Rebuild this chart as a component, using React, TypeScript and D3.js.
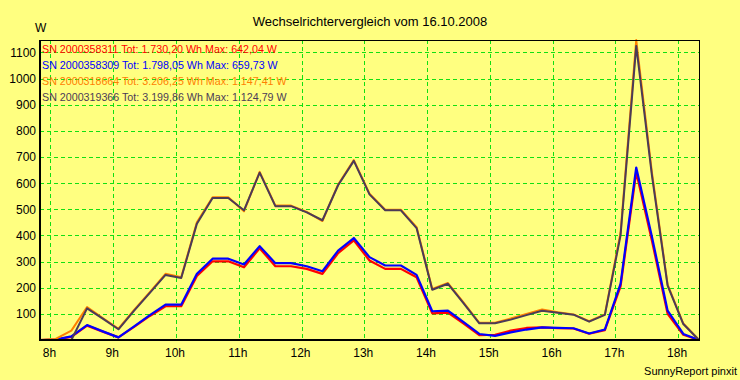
import React from "react";
import * as d3 from "d3";

// times in decimal hours, 15-minute samples from 7:50 to 18:20
const times: number[] = d3.range(0, 43).map((i) => 7 + 50 / 60 + i * 0.25);

const series358311: number[] = [0, 2, 12, 55, 32, 10, 50, 92, 129, 129, 245, 301, 301, 278, 351, 282, 282, 272, 253, 332, 381, 304, 272, 272, 240, 102, 105, 63, 19, 20, 36, 46, 48, 45, 44, 24, 38, 205, 642.04, 380, 100, 20, 0];
const series358309: number[] = [0, 2, 14, 57, 33, 10, 52, 95, 135, 135, 253, 311, 311, 289, 359, 294, 294, 282, 263, 342, 390, 317, 285, 285, 249, 110, 112, 68, 23, 16, 29, 40, 48, 46, 45, 25, 40, 215, 659.73, 395, 112, 23, 0];
const series318664: number[] = [0, 4, 36, 126, 84, 43, 115, 183, 253, 240, 450, 546, 546, 492, 643, 514, 514, 490, 455, 595, 688, 560, 498, 498, 432, 195, 218, 143, 66, 66, 82, 100, 117, 106, 98, 72, 98, 410, 1147.41, 640, 212, 63, 0];
const series319366: number[] = [0, 0, 0, 121, 82, 41, 112, 180, 249, 237, 445, 543, 543, 496, 640, 512, 512, 488, 458, 592, 685, 557, 496, 496, 428, 192, 215, 140, 64, 64, 78, 95, 112, 104, 97, 70, 96, 400, 1124.79, 630, 208, 61, 0];

const seriesNames: string[] = ["SN 2000358311", "SN 2000358309", "SN 2000318664", "SN 2000319366"];
const seriesTotals: string[] = ["1.730,20", "1.798,05", "3.206,25", "3.199,86"];
const seriesMax: string[] = ["642,04", "659,73", "1.147,41", "1.124,79"];
const seriesColors: string[] = ["#ff0000", "#0000ff", "#ff8000", "#4b3b57"];
const seriesValues: number[][] = [series358311, series358309, series318664, series319366];

const yTicks: number[] = [100, 200, 300, 400, 500, 600, 700, 800, 900, 1000, 1100];
const xTicks: number[] = [8, 9, 10, 11, 12, 13, 14, 15, 16, 17, 18];

const title = "Wechselrichtervergleich vom 16.10.2008";
const FONT = "'Liberation Sans', Arial, sans-serif";

export default function App() {
  const W = 740, H = 380;
  const left = 40, right = 699, top = 40, bottom = 340;
  const x = d3.scaleLinear().domain([7 + 50 / 60, 18 + 20 / 60]).range([left, right]);
  const y = d3.scaleLinear().domain([0, 1147.41]).range([bottom, top]);
  const line = d3
    .line<number>()
    .x((_, i) => x(times[i]))
    .y((d) => y(d));

  return (
    <svg width={W} height={H} style={{ position: "absolute", left: 0, top: 0 }} fontFamily={FONT}>
      <rect x={0} y={0} width={W} height={H} fill="#ffff80" />
      <text x={370} y={26} fontSize={13} textAnchor="middle" fill="#000">{title}</text>
      <text x={35} y={31.5} fontSize={12} fill="#000">W</text>

      {/* grid */}
      {yTicks.map((t) => (
        <line key={"gy" + t} x1={left} x2={right} y1={Math.round(y(t)) + 0.5} y2={Math.round(y(t)) + 0.5}
          stroke="#11e011" strokeWidth={1} strokeDasharray="4,3" />
      ))}
      {xTicks.map((t) => (
        <line key={"gx" + t} x1={Math.round(x(t)) + 0.5} x2={Math.round(x(t)) + 0.5} y1={top} y2={bottom}
          stroke="#11e011" strokeWidth={1} strokeDasharray="4,3" />
      ))}

      {/* series */}
      {seriesValues.map((vals, k) => (
        <path key={"s" + k} d={line(vals) || ""} fill="none" stroke={seriesColors[k]}
          strokeWidth={k < 2 ? 2.2 : 2} strokeLinejoin="round" />
      ))}

      {/* frame */}
      <rect x={left + 0.5} y={top + 0.5} width={right - left} height={bottom - top} fill="none" stroke="#000" strokeWidth={1} />
      <line x1={left} x2={left} y1={top} y2={bottom + 1} stroke="#000" strokeWidth={2} />
      <line x1={left} x2={right + 1} y1={bottom} y2={bottom} stroke="#000" strokeWidth={2} />

      {/* y labels */}
      {yTicks.map((t) => (
        <text key={"ly" + t} x={36} y={y(t) + 4.5} fontSize={12} textAnchor="end" fill="#000">{t}</text>
      ))}
      {/* x labels */}
      {xTicks.map((t) => (
        <text key={"lx" + t} x={x(t) - 1} y={357} fontSize={12} textAnchor="middle" fill="#000">{t + "h"}</text>
      ))}

      {/* legend */}
      {seriesNames.map((n, k) => (
        <text key={"lg" + k} x={42} y={53 + k * 16} fontSize={10.7} fill={seriesColors[k]}>
          {n + " Tot: " + seriesTotals[k] + " Wh Max: " + seriesMax[k] + " W"}
        </text>
      ))}

      <text x={737} y={375} fontSize={11} textAnchor="end" fill="#000">SunnyReport pinxit</text>
    </svg>
  );
}
